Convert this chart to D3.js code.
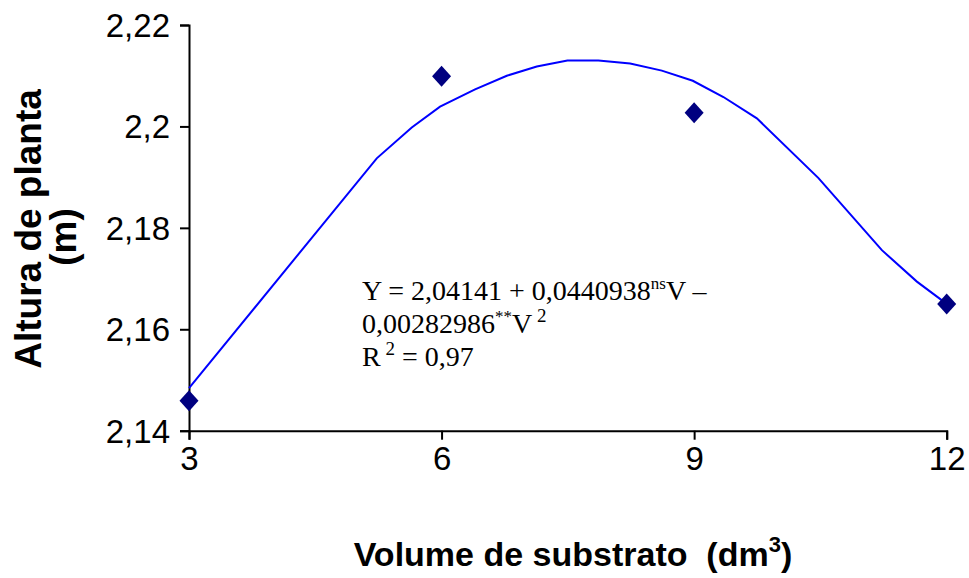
<!DOCTYPE html>
<html><head><meta charset="utf-8">
<script src="https://cdn.jsdelivr.net/npm/d3@7"></script>
<style>body{margin:0;background:#fff;}svg{display:block;}</style>
</head><body>
<svg id="c" width="969" height="578"></svg>
<script>
const volume = [3, 6, 9, 12];
const altura = [2.1459, 2.2099, 2.2027, 2.1650];
const curveX = [3, 5.23, 5.646, 5.982, 6.398, 6.775, 7.131, 7.495, 7.863, 8.24, 8.616, 8.984, 9.348, 9.745, 10.477, 11.23, 11.646, 12];
const curveY = [2.1484, 2.1937, 2.1998, 2.2039, 2.2073, 2.2100, 2.2118, 2.2130, 2.2130, 2.2124, 2.2110, 2.2090, 2.2058, 2.2016, 2.1898, 2.1756, 2.1694, 2.1650];
const xTicks = [3, 6, 9, 12];
const yTicks = [2.14, 2.16, 2.18, 2.2, 2.22];
const yTickLabels = ["2,14", "2,16", "2,18", "2,2", "2,22"];

const svg = d3.select("#c");
const x = d3.scaleLinear().domain([3, 12]).range([189, 946.7]);
const y = d3.scaleLinear().domain([2.14, 2.22]).range([430.7, 25]);

// axes
const xAxis = svg.append("g").attr("transform", `translate(0,${y(2.14)})`)
  .call(d3.axisBottom(x).tickValues(xTicks).tickSize(9).tickPadding(7).tickFormat(d => d));
const yAxis = svg.append("g").attr("transform", `translate(${x(3)},0)`)
  .call(d3.axisLeft(y).tickValues(yTicks).tickSize(9).tickPadding(10).tickFormat((d, i) => yTickLabels[i]));
[xAxis, yAxis].forEach(g => {
  g.select(".domain").attr("stroke", "#000").attr("stroke-width", 2);
  g.selectAll(".tick line").attr("stroke", "#000").attr("stroke-width", 2);
  g.selectAll(".tick text").attr("fill", "#000")
    .style("font-family", "Liberation Sans, Arial, sans-serif").style("font-size", "33px");
});
xAxis.selectAll(".tick text").attr("dy", "0.71em");
yAxis.selectAll(".tick text").attr("dy", "0.35em");

// fitted curve
const line = d3.line().x((d, i) => x(curveX[i])).y((d, i) => y(curveY[i]));
svg.append("path").datum(curveX).attr("d", line)
  .attr("fill", "none").attr("stroke", "#0000FF").attr("stroke-width", 2).attr("stroke-linejoin", "miter");

// points (diamonds)
const diamond = "M0,-10.5L9.5,0L0,10.5L-9.5,0Z";
svg.selectAll(".pt").data(volume).enter().append("path")
  .attr("transform", (d, i) => `translate(${x(d)},${y(altura[i])})`)
  .attr("d", diamond).attr("fill", "#000080");

// equation
const eq = svg.append("text")
  .style("font-family", "Liberation Serif, Times New Roman, serif").style("font-size", "28px").attr("fill", "#000");
const l1 = eq.append("tspan").attr("x", 362).attr("y", 300);
l1.append("tspan").text("Y = 2,04141 + 0,0440938");
l1.append("tspan").attr("font-size", "17px").attr("dy", -11).text("ns");
l1.append("tspan").attr("dy", 11).text("V \u2013");
const l2 = eq.append("tspan").attr("x", 362).attr("y", 333);
l2.append("tspan").text("0,00282986");
l2.append("tspan").attr("font-size", "17px").attr("dy", -11).text("**");
l2.append("tspan").attr("dy", 11).text("V");
l2.append("tspan").attr("font-size", "19px").attr("dy", -11).text("\u00a02");
const l3 = eq.append("tspan").attr("x", 362).attr("y", 366);
l3.append("tspan").text("R");
l3.append("tspan").attr("font-size", "19px").attr("dy", -11).text("\u00a02");
l3.append("tspan").attr("dy", 11).text(" = 0,97");

// axis titles
const xt = svg.append("text").attr("x", 573).attr("y", 566).attr("text-anchor", "middle")
  .style("font-family", "Liberation Sans, Arial, sans-serif").style("font-size", "34px").style("font-weight", "bold").attr("fill", "#000");
xt.append("tspan").text("Volume de substrato \u00a0(dm");
xt.append("tspan").attr("font-size", "22px").attr("dy", -14).text("3");
xt.append("tspan").attr("dy", 14).text(")");

const yt = svg.append("text").attr("transform", "translate(41,229) rotate(-90)").attr("text-anchor", "middle")
  .style("font-family", "Liberation Sans, Arial, sans-serif").style("font-size", "37px").style("font-weight", "bold").attr("fill", "#000");
yt.append("tspan").attr("x", 0).attr("y", 0).text("Altura de planta");
yt.append("tspan").attr("x", -8).attr("y", 35).text("(m)");
</script>
</body></html>
